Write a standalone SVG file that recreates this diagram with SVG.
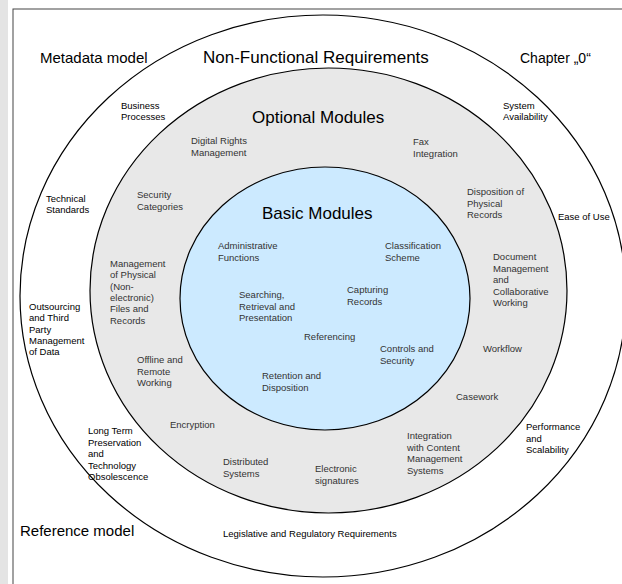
<svg xmlns="http://www.w3.org/2000/svg" width="622" height="584" viewBox="0 0 622 584">
<style>
text{font-family:"Liberation Sans",Arial,sans-serif}
.ring{stroke:#000;stroke-width:1.2}
.big{font-size:17px;fill:#000}
.mid{font-size:15px;fill:#000}
.lbl{font-size:9.5px;fill:#000}
.mod{font-size:9.5px;fill:#333}
</style>
<rect x="0" y="0" width="622" height="584" fill="#fff"/>
<rect x="0" y="0" width="8" height="584" fill="#e4e4e4"/>
<rect x="13" y="9" width="620" height="590" fill="none" stroke="#444" stroke-width="1"/>
<g id="outer-ring">
<ellipse class="ring" cx="323" cy="296" rx="303" ry="281" fill="#fff"/>
<text class="mid" x="40" y="63">Metadata model</text>
<text class="big" x="203" y="63">Non-Functional Requirements</text>
<text class="mid" x="520" y="63" style="font-size:14px">Chapter „0“</text>
<text class="mid" x="20" y="536">Reference model</text>
<text class="lbl"><tspan x="121" y="109">Business</tspan><tspan x="121" y="120">Processes</tspan></text>
<text class="lbl"><tspan x="503" y="109">System</tspan><tspan x="503" y="120">Availability</tspan></text>
<text class="lbl"><tspan x="46" y="202">Technical</tspan><tspan x="46" y="213">Standards</tspan></text>
<text class="lbl" x="558" y="220">Ease of Use</text>
<text class="lbl"><tspan x="29" y="310">Outsourcing</tspan><tspan x="29" y="321.3">and Third</tspan><tspan x="29" y="332.6">Party</tspan><tspan x="29" y="343.9">Management</tspan><tspan x="29" y="355.2">of Data</tspan></text>
<text class="lbl"><tspan x="88" y="434">Long Term</tspan><tspan x="88" y="445.5">Preservation</tspan><tspan x="88" y="457">and</tspan><tspan x="88" y="468.5">Technology</tspan><tspan x="88" y="480">Obsolescence</tspan></text>
<text class="lbl"><tspan x="526" y="430">Performance</tspan><tspan x="526" y="441.5">and</tspan><tspan x="526" y="453">Scalability</tspan></text>
<text class="lbl" x="223" y="537">Legislative and Regulatory Requirements</text>
</g>
<g id="optional-modules">
<ellipse class="ring" cx="328.5" cy="290.5" rx="238.5" ry="222.5" fill="#e8e8e8"/>
<text class="big" x="252" y="123">Optional Modules</text>
<text class="mod"><tspan x="191" y="144">Digital Rights</tspan><tspan x="191" y="155.5">Management</tspan></text>
<text class="mod"><tspan x="413" y="145">Fax</tspan><tspan x="413" y="156.5">Integration</tspan></text>
<text class="mod"><tspan x="137" y="198">Security</tspan><tspan x="137" y="209.5">Categories</tspan></text>
<text class="mod"><tspan x="467" y="195">Disposition of</tspan><tspan x="467" y="206.5">Physical</tspan><tspan x="467" y="218">Records</tspan></text>
<text class="mod"><tspan x="110" y="267">Management</tspan><tspan x="110" y="278.3">of Physical</tspan><tspan x="110" y="289.6">(Non-</tspan><tspan x="110" y="300.9">electronic)</tspan><tspan x="110" y="312.2">Files and</tspan><tspan x="110" y="323.5">Records</tspan></text>
<text class="mod"><tspan x="493" y="260">Document</tspan><tspan x="493" y="271.5">Management</tspan><tspan x="493" y="283">and</tspan><tspan x="493" y="294.5">Collaborative</tspan><tspan x="493" y="306">Working</tspan></text>
<text class="mod"><tspan x="137" y="363">Offline and</tspan><tspan x="137" y="374.5">Remote</tspan><tspan x="137" y="386">Working</tspan></text>
<text class="mod" x="483" y="352">Workflow</text>
<text class="mod" x="456" y="400">Casework</text>
<text class="mod" x="170" y="428">Encryption</text>
<text class="mod"><tspan x="407" y="439">Integration</tspan><tspan x="407" y="450.5">with Content</tspan><tspan x="407" y="462">Management</tspan><tspan x="407" y="473.5">Systems</tspan></text>
<text class="mod"><tspan x="223" y="465">Distributed</tspan><tspan x="223" y="476.5">Systems</tspan></text>
<text class="mod"><tspan x="315" y="472">Electronic</tspan><tspan x="315" y="483.5">signatures</tspan></text>
</g>
<g id="basic-modules">
<ellipse class="ring" cx="325" cy="298.5" rx="145" ry="131.5" fill="#cceaff"/>
<text class="big" x="262" y="219">Basic Modules</text>
<text class="mod"><tspan x="218" y="249">Administrative</tspan><tspan x="218" y="261">Functions</tspan></text>
<text class="mod"><tspan x="385" y="249">Classification</tspan><tspan x="385" y="261">Scheme</tspan></text>
<text class="mod"><tspan x="239" y="298">Searching,</tspan><tspan x="239" y="309.5">Retrieval and</tspan><tspan x="239" y="321">Presentation</tspan></text>
<text class="mod"><tspan x="347" y="293">Capturing</tspan><tspan x="347" y="304.5">Records</tspan></text>
<text class="mod" x="304" y="340">Referencing</text>
<text class="mod"><tspan x="380" y="352">Controls and</tspan><tspan x="380" y="363.5">Security</tspan></text>
<text class="mod"><tspan x="262" y="379">Retention and</tspan><tspan x="262" y="390.5">Disposition</tspan></text>
</g>
<g id="connectors"/>
</svg>
